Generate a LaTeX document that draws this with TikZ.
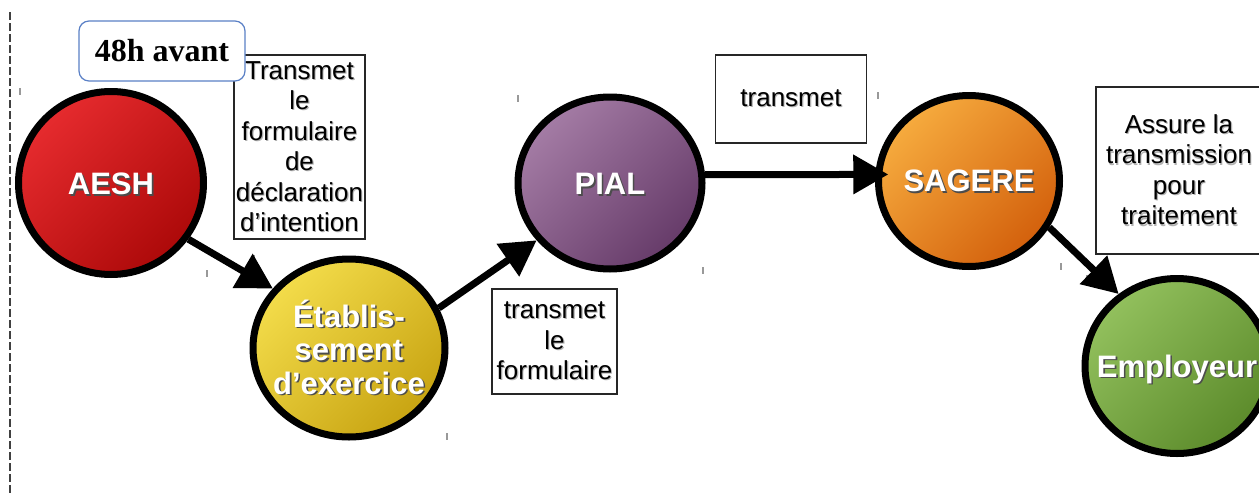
\documentclass[tikz,border=0pt]{standalone}
\usepackage{fontspec}
\setmainfont{Liberation Sans}
\newfontfamily\lserif{Liberation Serif}
\usetikzlibrary{shapes.geometric,arrows.meta}
\newcommand\shw[1]{\leavevmode\rlap{\kern1.6pt\raisebox{-1.6pt}{\textcolor{black!70}{#1}}}#1}
\newcommand\shg[1]{\leavevmode\rlap{\kern1.1pt\raisebox{-1.1pt}{\textcolor{black!30}{#1}}}#1}
\definecolor{redA}{HTML}{E62B2E}\definecolor{redB}{HTML}{AC0909}
\definecolor{yelA}{HTML}{F3DC4A}\definecolor{yelB}{HTML}{C8A412}
\definecolor{purA}{HTML}{A47CA5}\definecolor{purB}{HTML}{663B69}
\definecolor{oraA}{HTML}{F6AB3E}\definecolor{oraB}{HTML}{D3600C}
\definecolor{greA}{HTML}{92C05D}\definecolor{greB}{HTML}{5C8B2B}
\definecolor{tagblue}{HTML}{5A80C6}
\tikzset{
  bubble/.style n args={2}{ellipse, draw=black, line width=7pt, inner sep=0pt,
    top color=#1, bottom color=#2, shading angle=45},
  ctext/.style={text=white, font=\bfseries\fontsize{31}{33.5}\selectfont, align=center, inner sep=0pt},
  lbox/.style={draw=black!85, line width=1.1pt, fill=white, inner sep=0pt, align=center,
    font=\fontsize{26}{30.5}\selectfont},
  arr/.style={line width=7pt, -{Triangle[length=35pt,width=38pt]}},
  tick/.style={draw=gray!80, line width=1.3pt},
  dashline/.style={draw=black!75, line width=1.2pt, dash pattern=on 8pt off 3pt}
}
\begin{document}
\begin{tikzpicture}[x=1pt,y=-1pt]
\useasboundingbox (0,0) rectangle (1259,493);
\fill[white] (0,0) rectangle (1259,493);
% left dashed guide
\coordinate (g1) at (10,12);
\coordinate (g2) at (10,493);
\draw[dashline] (g1) -- (g2);
% small handle marks
\foreach \x/\y in {20/88,207/270,254/255,447/433,518/95,703/267,878/92,1061/263,1087/275}
  \draw[tick] (\x,\y) -- ++(0,7);
% label boxes
\node[lbox, minimum width=131pt, minimum height=184pt] (lab1) at (299.5,147)
  {\shg{Transmet}\\\shg{le}\\\shg{formulaire}\\\shg{de}\\\shg{déclaration}\\\shg{d’intention}};
\node[draw=tagblue, line width=1.2pt, fill=white, rounded corners=10pt, inner sep=0pt,
  minimum width=166pt, minimum height=60pt, font=\lserif\bfseries\fontsize{32}{36}\selectfont]
  (tag) at (162,51) {48h avant};
\node[lbox, minimum width=151pt, minimum height=88pt] (lab3) at (791,99) {\shg{transmet}};
\node[lbox, minimum width=125pt, minimum height=105pt] (lab2) at (554.5,341.5)
  {\shg{transmet}\\\shg{le}\\\shg{formulaire}};
\node[lbox, minimum width=166pt, minimum height=167pt] (lab4) at (1179,170.5)
  {\shg{Assure la}\\\shg{transmission}\\\shg{pour}\\\shg{traitement}};
% circles
\node[bubble={redA}{redB}, minimum width=185pt, minimum height=183pt] (aesh) at (111,183) {};
\node[bubble={yelA}{yelB}, minimum width=192pt, minimum height=178pt] (etab) at (349,348) {};
\node[bubble={purA}{purB}, minimum width=184pt, minimum height=172pt] (pial) at (610,183) {};
\node[bubble={oraA}{oraB}, minimum width=181pt, minimum height=171pt] (sagere) at (969,181) {};
\node[bubble={greA}{greB}, minimum width=184pt, minimum height=175pt] (emp) at (1177,366) {};
% circle texts
\node[ctext] (aesh-t) at ([yshift=-2pt]aesh.center) {\shw{AESH}};
\node[ctext] (etab-t) at ([yshift=0pt]etab.center) {\shw{Établis-}\\\shw{sement}\\\shw{d’exercice}};
\node[ctext] (pial-t) at ([yshift=-2pt]pial.center) {\shw{PIAL}};
\node[ctext] (sagere-t) at ([yshift=-1pt]sagere.center) {\shw{SAGERE}};
\node[ctext] (emp-t) at ([yshift=-4pt]emp.center) {\shw{Employeur}};
% connectors
\draw[arr] (aesh.-36) -- (etab.142);
\draw[arr] (etab.24) -- (pial.218);
\draw[arr, shorten >=-13pt] (pial.5) -- (sagere.176);
\draw[arr] (sagere.-30) -- (emp.129);
\end{tikzpicture}
\end{document}
